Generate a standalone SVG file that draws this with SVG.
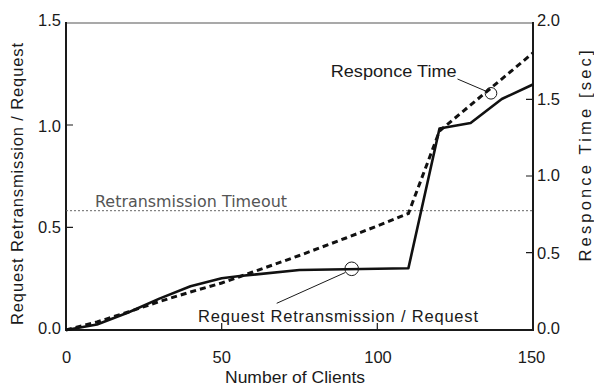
<svg xmlns="http://www.w3.org/2000/svg" width="594" height="385" viewBox="0 0 594 385">
<style>
.t{font-family:Arial,"Liberation Sans",Helvetica,sans-serif;font-size:16.5px;fill:#1a1a1a}
.ax{stroke:#1a1a1a;stroke-width:2;fill:none}
.tk{stroke:#1a1a1a;stroke-width:1.2;fill:none}
.lead{stroke:#1a1a1a;stroke-width:1;fill:none}
</style>
<rect width="594" height="385" fill="#fff"/>
<g id="axes">
<line x1="66" y1="23" x2="533" y2="23" stroke="#555" stroke-width="1.2"/>
<line class="ax" x1="66" y1="22" x2="66" y2="331"/>
<line class="ax" x1="533" y1="22" x2="533" y2="331"/>
<line class="ax" x1="65" y1="330" x2="534" y2="330"/>
<path class="tk" d="M66 125H73M66 227.3H73M526 99.3H533M526 176H533M526 252.7H533M221.7 330V323M377.3 330V323"/>
</g>
<g id="tick-labels">
<text class="t" x="61" y="25.7" text-anchor="end">1.5</text>
<text class="t" x="61" y="131.5" text-anchor="end">1.0</text>
<text class="t" x="61" y="233.3" text-anchor="end">0.5</text>
<text class="t" x="61" y="333.5" text-anchor="end">0.0</text>
<text class="t" x="537" y="25.5">2.0</text>
<text class="t" x="537" y="104.5">1.5</text>
<text class="t" x="537" y="180.5">1.0</text>
<text class="t" x="537" y="258.5">0.5</text>
<text class="t" x="537" y="334">0.0</text>
<text class="t" x="66.5" y="362.5" text-anchor="middle">0</text>
<text class="t" x="221.7" y="362.5" text-anchor="middle">50</text>
<text class="t" x="378" y="362.5" text-anchor="middle">100</text>
<text class="t" x="531.5" y="362.5" text-anchor="middle">150</text>
</g>
<g id="axis-titles">
<text class="t" x="225" y="383" textLength="140" lengthAdjust="spacingAndGlyphs">Number of Clients</text>
<text class="t" transform="translate(23.3,184) rotate(-90)" text-anchor="middle" textLength="282" lengthAdjust="spacing">Request Retransmission / Request</text>
<text class="t" transform="translate(591,156) rotate(-90)" text-anchor="middle" textLength="211" lengthAdjust="spacing">Responce Time [sec]</text>
</g>
<g id="timeout">
<line x1="66" y1="210.7" x2="533" y2="210.7" stroke="#666" stroke-width="1" stroke-dasharray="2 2"/>
<text x="95" y="206.7" font-family="'DejaVu Sans',sans-serif" font-size="15.5" fill="#555" textLength="192" lengthAdjust="spacingAndGlyphs">Retransmission Timeout</text>
</g>
<g id="connectors">
<polyline id="retrans-curve" fill="none" stroke="#111" stroke-width="2.6" stroke-linejoin="round" points="66,330 97,324.5 128.2,312.5 159.4,298.6 190.5,286.3 221.7,278.3 240,276 299.4,270 377.3,268.8 408.4,268.3 439.5,128.5 470.6,123 501.8,99 532.9,84.5"/>
<polyline id="response-curve" fill="none" stroke="#111" stroke-width="3" stroke-dasharray="6 4" points="66,330 97,322 128.2,312 159.4,301.5 190.5,292 221.7,283 252.8,272 299.4,255.5 346,238 377.3,226 408.4,213.5 439.5,131 532.9,53"/>
</g>
<g id="callout-response">
<circle class="lead" cx="491" cy="93.3" r="5.8"/>
<line class="lead" x1="457.5" y1="79" x2="485.6" y2="91"/>
<text class="t" x="330.7" y="77.3" font-size="17" textLength="126" lengthAdjust="spacingAndGlyphs">Responce Time</text>
</g>
<g id="callout-retrans">
<circle class="lead" cx="351.7" cy="268.8" r="6.8"/>
<line class="lead" x1="276.7" y1="303.3" x2="345.3" y2="272.5"/>
<text class="t" x="198" y="321.7" font-size="17" textLength="280" lengthAdjust="spacing">Request Retransmission / Request</text>
</g>
</svg>
